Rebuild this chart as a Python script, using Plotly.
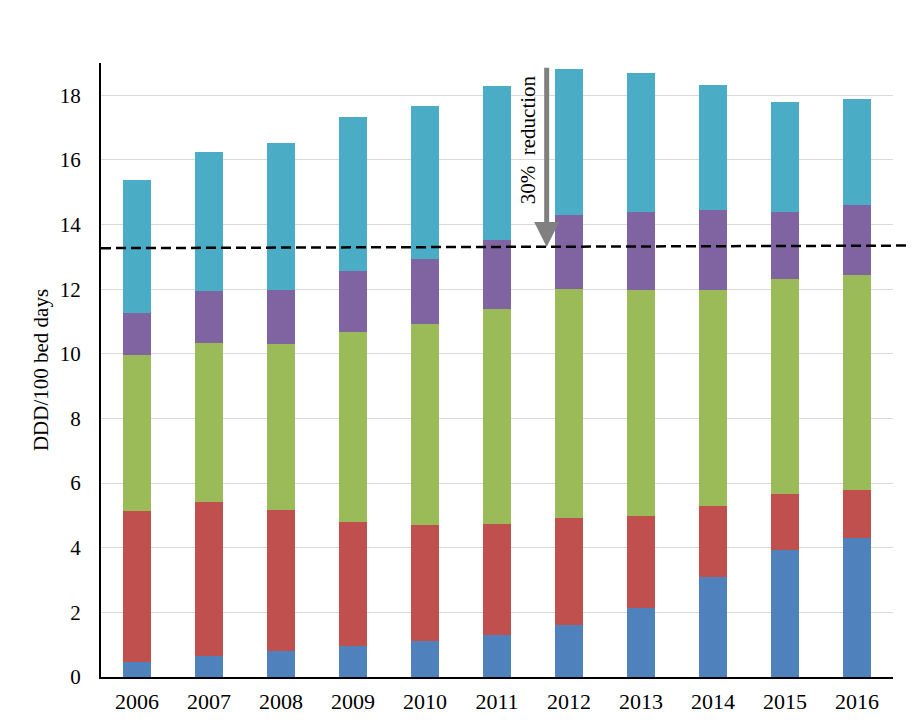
import plotly.graph_objects as go

years = [2006, 2007, 2008, 2009, 2010, 2011, 2012, 2013, 2014, 2015, 2016]
tick_labels = [str(y) for y in years]

seg_blue = [0.47, 0.65, 0.81, 0.95, 1.10, 1.31, 1.61, 2.15, 3.11, 3.92, 4.30]
seg_red = [4.68, 4.75, 4.35, 3.84, 3.60, 3.43, 3.32, 2.82, 2.17, 1.73, 1.50]
seg_green = [4.81, 4.95, 5.14, 5.90, 6.23, 6.65, 7.07, 7.01, 6.69, 6.68, 6.63]
seg_purple = [1.31, 1.58, 1.68, 1.88, 2.02, 2.12, 2.29, 2.42, 2.48, 2.07, 2.19]
seg_teal = [4.12, 4.33, 4.56, 4.75, 4.71, 4.77, 4.52, 4.29, 3.86, 3.38, 3.28]

target_level = [13.27, 13.35]
arrow_from = 18.9
arrow_to = 13.31
arrow_x = 2011.69
label_text = "30%  reduction"

series = [
    (seg_blue, "#4F81BD"),
    (seg_red, "#C0504D"),
    (seg_green, "#9BBB59"),
    (seg_purple, "#8064A2"),
    (seg_teal, "#4BACC6"),
]

fig = go.Figure()
for vals, col in series:
    fig.add_trace(go.Bar(x=years, y=vals, width=0.4, marker=dict(color=col, line=dict(width=0)),
                         showlegend=False, hoverinfo="y"))

font_family = "Liberation Serif, Times New Roman, serif"

fig.update_layout(
    barmode="stack",
    width=918, height=722,
    margin=dict(l=101, r=25, t=63, b=45),
    paper_bgcolor="white", plot_bgcolor="white",
    font=dict(family=font_family, size=21, color="black"),
    xaxis=dict(range=[2005.5, 2016.5], tickmode="array", tickvals=years, ticktext=tick_labels,
               showgrid=False, showline=True, linecolor="black", linewidth=2, ticks="",
               tickfont=dict(size=22), zeroline=False, ticklabelstandoff=4, automargin=False),
    yaxis=dict(range=[0, 19], tickmode="array", tickvals=[0, 2, 4, 6, 8, 10, 12, 14, 16, 18],
               showgrid=True, gridcolor="#d9d9d9", gridwidth=1, showline=True, linecolor="black",
               linewidth=2, ticks="", tickfont=dict(size=21), zeroline=False, ticklabelstandoff=14,
               automargin=False,
               title=dict(text="DDD/100 bed days", font=dict(size=21), standoff=5)),
)

fig.add_shape(type="line", xref="paper", yref="y", x0=0, x1=1.019,
              y0=target_level[0], y1=target_level[1],
              line=dict(color="black", width=2.5, dash="10px,5px"))

fig.add_annotation(x=arrow_x, y=arrow_to, ax=arrow_x, ay=arrow_from, xref="x", yref="y",
                   axref="x", ayref="y", showarrow=True, arrowhead=2, arrowsize=1.0,
                   arrowwidth=5, arrowcolor="#808080", standoff=0, startstandoff=0, text="")

fig.add_annotation(x=2011.43, y=16.64, xref="x", yref="y", text=label_text, textangle=-90,
                   showarrow=False, font=dict(size=21, family=font_family, color="black"))

fig.write_html("out.html")
